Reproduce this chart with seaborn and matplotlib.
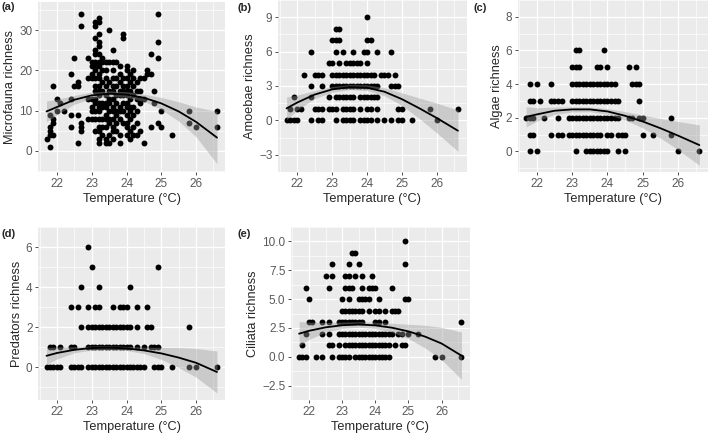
import numpy as np
import pandas as pd
import matplotlib
matplotlib.use("Agg")
import matplotlib.pyplot as plt
import seaborn as sns

sns.set_style("darkgrid")
plt.rcParams['font.family'] = ['Liberation Sans', 'DejaVu Sans']

# (a) microfauna: temperature -> richness values
micro = {
    21.7: [3], 21.8: [1, 4, 5, 6, 9], 21.9: [4, 7, 8, 16], 22.0: [10, 13],
    22.1: [12], 22.2: [10], 22.4: [6, 9, 13, 19], 22.5: [16, 23],
    22.6: [2, 9, 16, 17], 22.7: [5, 6, 7, 31, 34], 22.9: [8, 13, 18, 23],
    23.0: [8, 10, 11, 13, 18, 19, 21, 22],
    23.1: [5, 8, 10, 12, 13, 15, 16, 18, 20, 21, 22, 24, 25, 28, 31, 32],
    23.2: [2, 3, 5, 6, 8, 10, 11, 12, 14, 15, 16, 18, 19, 21, 22, 24, 26, 27, 29, 32, 33],
    23.3: [4, 6, 8, 11, 12, 15, 17, 20, 22, 23],
    23.4: [2, 3, 6, 8, 9, 11, 12, 14, 16, 18, 20, 22],
    23.5: [2, 4, 7, 8, 10, 12, 13, 15, 17, 22, 30],
    23.6: [3, 5, 6, 8, 10, 11, 13, 15, 16, 18, 20, 22, 25],
    23.7: [5, 7, 9, 10, 12, 14, 16, 18, 22],
    23.8: [2, 4, 8, 10, 11, 14, 15, 17, 19, 21],
    23.9: [7, 10, 12, 14, 15, 16, 18, 28, 29],
    24.0: [4, 6, 7, 9, 11, 12, 14, 15, 16, 18, 20, 21],
    24.1: [3, 5, 8, 10, 11, 13, 15, 17, 19],
    24.2: [4, 6, 9, 11, 14, 16, 18, 20],
    24.3: [4, 7, 10, 13, 15, 17],
    24.4: [5, 12, 13, 15, 18], 24.5: [2, 13, 18], 24.6: [19, 20],
    24.7: [6, 19, 24], 24.8: [12, 15], 24.9: [7, 23, 27, 34],
    25.0: [6, 10], 25.3: [4], 25.8: [7, 10], 26.0: [6], 26.6: [6, 10],
}

# (b)-(e): richness level -> temperatures
amoebae = {
    9: [24.0],
    8: [23.1, 23.2],
    7: [23.0, 23.1, 23.2, 24.0, 24.1],
    6: [22.4, 23.1, 23.3, 23.6, 23.9, 24.0, 24.3, 24.7],
    5: [22.9, 23.0, 23.2, 23.4, 23.5, 23.6, 23.7, 23.8, 24.0],
    4: [22.2, 22.5, 22.6, 22.7, 23.0, 23.1, 23.2, 23.3, 23.4, 23.5, 23.6, 23.7, 23.8,
        23.9, 24.0, 24.1, 24.2, 24.4, 24.5, 24.6, 24.8],
    3: [22.4, 22.7, 23.0, 23.1, 23.2, 23.3, 23.4, 23.5, 23.6, 23.7, 23.8, 23.9, 24.0,
        24.1, 24.2, 24.3, 24.7, 24.8, 24.9],
    2: [21.9, 22.4, 22.9, 23.1, 23.2, 23.3, 23.4, 23.5, 23.6, 23.8, 23.9, 24.0, 24.1,
        24.2, 24.3],
    1: [21.8, 22.0, 22.1, 22.5, 22.6, 22.7, 22.9, 23.0, 23.1, 23.3, 23.4, 23.5, 23.6,
        23.8, 24.0, 24.1, 24.3, 24.9, 25.0, 25.8, 26.6],
    0: [21.7, 21.8, 21.9, 22.0, 22.4, 22.6, 22.7, 23.1, 23.3, 23.4, 23.5, 23.6, 23.8,
        23.9, 24.0, 24.1, 24.3, 24.5, 24.7, 24.9, 25.0, 25.3, 26.0],
}

algae = {
    6: [23.1, 23.2, 23.9],
    5: [23.0, 23.1, 23.2, 23.7, 23.8, 24.0, 24.6, 24.8],
    4: [21.8, 22.0, 22.4, 23.0, 23.1, 23.2, 23.3, 23.4, 23.5, 23.6, 23.7, 23.8, 23.9,
        24.0, 24.1, 24.2, 24.7, 24.8, 24.9],
    3: [21.8, 21.9, 22.1, 22.4, 22.5, 22.6, 22.7, 23.0, 23.1, 23.2, 23.3, 23.4, 23.5,
        23.6, 23.7, 23.8, 23.9, 24.0, 24.1, 24.2, 24.3, 24.9],
    2: [21.7, 21.8, 21.9, 22.2, 22.6, 22.9, 23.0, 23.1, 23.2, 23.3, 23.4, 23.5, 23.6,
        23.7, 23.8, 23.9, 24.0, 24.1, 24.2, 24.3, 24.6, 24.7, 24.9, 25.0, 25.8],
    1: [21.8, 21.9, 22.4, 22.6, 22.7, 22.9, 23.0, 23.1, 23.2, 23.3, 23.4, 23.5, 23.6,
        23.7, 23.8, 24.0, 24.1, 24.3, 24.4, 24.5, 25.0, 25.3, 25.8],
    0: [21.8, 22.0, 23.1, 23.4, 23.5, 23.6, 23.7, 23.8, 23.9, 24.0, 24.3, 24.5, 26.0, 26.6],
}

predators = {
    6: [22.9],
    5: [23.0, 24.9],
    4: [22.7, 23.2, 24.1],
    3: [22.4, 22.6, 22.9, 23.1, 23.2, 23.6, 23.8, 23.9, 24.0, 24.3, 24.6],
    2: [22.7, 22.9, 23.0, 23.1, 23.2, 23.3, 23.4, 23.5, 23.6, 23.7, 23.8, 23.9, 24.0,
        24.1, 24.3, 24.6, 24.7, 25.8],
    1: [21.8, 21.9, 22.1, 22.4, 22.5, 22.9, 23.0, 23.1, 23.2, 23.3, 23.4, 23.5, 23.6,
        23.7, 23.8, 23.9, 24.0, 24.1, 24.3, 24.5, 24.7, 24.8, 24.9],
    0: [21.7, 21.8, 21.9, 22.0, 22.1, 22.4, 22.5, 22.6, 22.7, 22.9, 23.0, 23.1, 23.2,
        23.3, 23.4, 23.5, 23.6, 23.7, 23.8, 23.9, 24.0, 24.1, 24.2, 24.3, 24.4, 24.5,
        24.8, 24.9, 25.0, 25.3, 25.8, 26.0, 26.6],
}

ciliata = {
    10: [24.9],
    9: [23.3, 23.4],
    8: [22.7, 23.2, 23.5, 24.9],
    7: [22.5, 22.7, 23.1, 23.2, 23.4, 23.6, 23.9],
    6: [21.9, 22.6, 23.1, 23.2, 23.3, 23.6, 23.8, 23.9, 24.0, 24.5],
    5: [22.0, 23.0, 23.2, 23.5, 23.6, 23.7, 23.8, 24.1, 24.9, 25.0],
    4: [23.0, 23.1, 23.2, 23.3, 23.4, 23.5, 23.6, 23.8, 24.0, 24.1, 24.3, 24.5, 24.6, 24.7],
    3: [22.0, 22.1, 22.4, 22.6, 22.9, 23.0, 23.1, 23.2, 23.3, 23.4, 23.5, 23.6, 24.0,
        24.1, 24.3, 26.6],
    2: [21.9, 22.4, 22.6, 22.9, 23.0, 23.1, 23.2, 23.3, 23.4, 23.5, 23.6, 23.7, 23.8,
        23.9, 24.0, 24.1, 24.2, 24.3, 24.4, 24.5, 24.7, 24.8, 25.0, 25.3],
    1: [21.8, 22.6, 22.7, 22.9, 23.1, 23.2, 23.3, 23.4, 23.5, 23.6, 23.7, 23.8, 23.9,
        24.0, 24.1, 24.2, 24.3, 24.4, 24.6, 24.8, 24.9],
    0: [21.7, 21.8, 21.9, 22.2, 22.4, 22.7, 22.9, 23.0, 23.1, 23.2, 23.4, 23.5, 23.6,
        23.7, 23.8, 23.9, 24.0, 24.1, 24.2, 24.3, 24.4, 25.8, 26.0, 26.6],
}

# fitted curves and half-width of the grey bands, read at these temperatures
fit_temp = [21.7, 22.0, 22.5, 23.0, 23.5, 24.0, 24.5, 25.0, 25.5, 26.0, 26.6]
micro_fit = [9.8, 10.9, 12.7, 13.8, 14.2, 14.0, 13.2, 11.8, 9.8, 7.2, 3.3]
micro_se = [2.6, 1.9, 1.1, 0.8, 0.7, 0.7, 0.9, 1.5, 2.4, 3.7, 6.5]
amoebae_fit = [1.05, 1.55, 2.25, 2.7, 2.9, 2.85, 2.5, 1.85, 1.05, 0.2, -0.9]
amoebae_se = [1.0, 0.65, 0.35, 0.25, 0.22, 0.25, 0.35, 0.55, 0.9, 1.3, 1.8]
algae_fit = [2.06, 2.2, 2.42, 2.5, 2.5, 2.38, 2.12, 1.78, 1.38, 0.94, 0.38]
algae_se = [0.6, 0.4, 0.22, 0.15, 0.14, 0.17, 0.25, 0.38, 0.58, 0.84, 1.2]
pred_fit = [0.56, 0.7, 0.86, 0.95, 0.97, 0.93, 0.83, 0.68, 0.47, 0.21, -0.25]
pred_se = [0.42, 0.3, 0.15, 0.1, 0.09, 0.1, 0.16, 0.3, 0.5, 0.72, 1.05]
cil_fit = [2.0, 2.25, 2.55, 2.73, 2.8, 2.72, 2.52, 2.2, 1.75, 1.15, 0.1]
cil_se = [1.05, 0.75, 0.42, 0.27, 0.24, 0.27, 0.38, 0.62, 0.98, 1.4, 2.05]

x_ticks = [22, 23, 24, 25, 26]


def by_level(d):
    rows = [(t, lvl) for lvl, temps in d.items() for t in temps]
    return pd.DataFrame(rows, columns=["temp", "rich"])


micro_df = pd.DataFrame([(t, v) for t, vals in micro.items() for v in vals],
                        columns=["temp", "rich"])

# tag, data, fit, band, ylabel, yticks, yticklabels, ylim, axes box (px), tag pos (px)
panels = [
    ("(a)", micro_df, micro_fit, micro_se, "Microfauna richness",
     [0, 10, 20, 30], ["0", "10", "20", "30"], (-5.25, 37.0),
     [38.0, 2, 225.5, 172], (1, 7)),
    ("(b)", by_level(amoebae), amoebae_fit, amoebae_se, "Amoebae richness",
     [-3, 0, 3, 6, 9], ["\u22123", "0", "3", "6", "9"], (-3.3, 9.6),
     [278.0, 0, 466.5, 172], (238, 8)),
    ("(c)", by_level(algae), algae_fit, algae_se, "Algae richness",
     [0, 2, 4, 6, 8], ["0", "2", "4", "6", "8"], (-1.22, 8.44),
     [517.5, 0, 708, 172], (474, 8)),
    ("(d)", by_level(predators), pred_fit, pred_se, "Predators richness",
     [0, 2, 4, 6], ["0", "2", "4", "6"], (-1.65, 6.35),
     [38.0, 227, 225.5, 400], (1, 234)),
    ("(e)", by_level(ciliata), cil_fit, cil_se, "Ciliata richness",
     [-2.5, 0, 2.5, 5, 7.5, 10], ["\u22122.5", "0.0", "2.5", "5.0", "7.5", "10.0"],
     (-2.45, 10.6), [291.0, 227, 469.5, 400], (238, 234)),
]

W, H = 709, 434
fig = plt.figure(figsize=(W / 100, H / 100), dpi=100)

for tag, df, fit, se, ylab, yt, ytl, ylim, (x0, y0, x1, y1), (tx, ty) in panels:
    ax = fig.add_axes([x0 / W, 1 - y1 / H, (x1 - x0) / W, (y1 - y0) / H])
    ax.set_facecolor("#EBEBEB")
    for s in ax.spines.values():
        s.set_visible(False)

    # points first, then the translucent band on top (greys the covered points)
    sns.scatterplot(data=df, x="temp", y="rich", ax=ax, color="black",
                    s=18, linewidth=0, zorder=3)
    lo = [f - h for f, h in zip(fit, se)]
    hi = [f + h for f, h in zip(fit, se)]
    ax.fill_between(fit_temp, lo, hi, color="#999999", alpha=0.4,
                    linewidth=0, zorder=4)
    sns.lineplot(x=fit_temp, y=fit, ax=ax, color="black", linewidth=1.3,
                 zorder=5)

    ax.set_xlim(21.455, 26.845)
    ax.set_ylim(*ylim)
    ax.set_xticks(x_ticks)
    ax.set_xticklabels([str(t) for t in x_ticks])
    ax.set_yticks(yt)
    ax.set_yticklabels(ytl)
    ax.set_xticks(np.arange(21.5, 27, 1.0), minor=True)
    step_y = (yt[1] - yt[0]) / 2
    ax.set_yticks([v + step_y for v in [yt[0] - 2 * step_y] + yt], minor=True)
    ax.grid(which="major", color="white", linewidth=0.9)
    ax.grid(which="minor", color="white", linewidth=0.45)
    ax.set_axisbelow(True)
    ax.tick_params(which="major", length=2.5, width=0.6, color="#333333",
                   labelsize=8.5, labelcolor="#5A5A5A", pad=1.5,
                   left=True, bottom=True)
    ax.tick_params(which="minor", length=0)
    ax.set_xlabel("Temperature (\u00b0C)", fontsize=9.2, labelpad=2.5)
    ax.set_ylabel(ylab, fontsize=9.2, labelpad=2)
    fig.text(tx / W, 1 - ty / H, tag, fontsize=8, fontweight="bold",
             ha="left", va="center")

fig.savefig("out.png", dpi=100)
